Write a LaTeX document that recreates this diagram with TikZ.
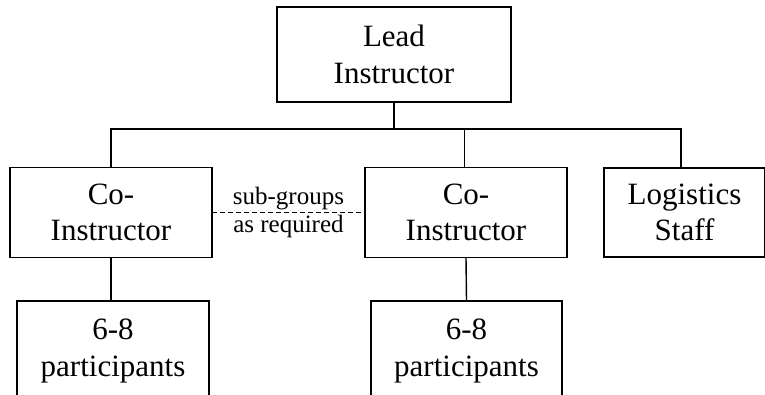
\documentclass[tikz,border=0pt]{standalone}
\usepackage{fontspec}
\setmainfont{Liberation Serif}
\usetikzlibrary{positioning,calc}

\begin{document}
\begin{tikzpicture}[
  x=1pt, y=-1pt,
  every node/.style={font=\fontsize{31}{36.7}\selectfont},
  role/.style={draw, line width=1.4pt, align=center, inner sep=0pt,
               outer sep=0pt},
  link/.style={line width=1.4pt},
  note/.style={font=\fontsize{25}{28.5}\selectfont, align=center},
]
\useasboundingbox (0,0) rectangle (765,395);
\node[role, minimum width=234pt, minimum height=95pt] (lead) at (394, 54.5) {Lead\\Instructor};
\node[role, minimum width=202pt, minimum height=90.5pt] (coL) at (111, 212.5) {Co-\\Instructor};
\node[role, minimum width=202pt, minimum height=90.5pt] (coM) at (466, 212.5) {Co-\\Instructor};
\node[role, minimum width=161pt, minimum height=89pt] (logi) at (684.5, 212.5) {Logistics\\Staff};
\node[role, minimum width=192pt, minimum height=100pt] (partL) at (113, 351) {6-8\\participants};
\node[role, minimum width=191pt, minimum height=100pt] (partM) at (466.5, 351) {6-8\\participants};
\coordinate (bus) at (394, 129);
\draw[link] (lead.south) -- (bus);
\draw[link] (coL.north) |- (bus) -| ([xshift=-3.5pt]logi.north);
\draw[link] ([xshift=-1.5pt]coM.north) -- ([xshift=-1.5pt]coM.north |- bus);
\draw[link] (coL.south) -- (coL.south |- partL.north);
\draw[link] (coM.south) -- (partM.north);
% optional split of the groups
\draw[link, dash pattern=on 5pt off 3pt] (coL.east) -- node[note] {sub-groups\\as required} (coM.west);
\end{tikzpicture}
\end{document}
